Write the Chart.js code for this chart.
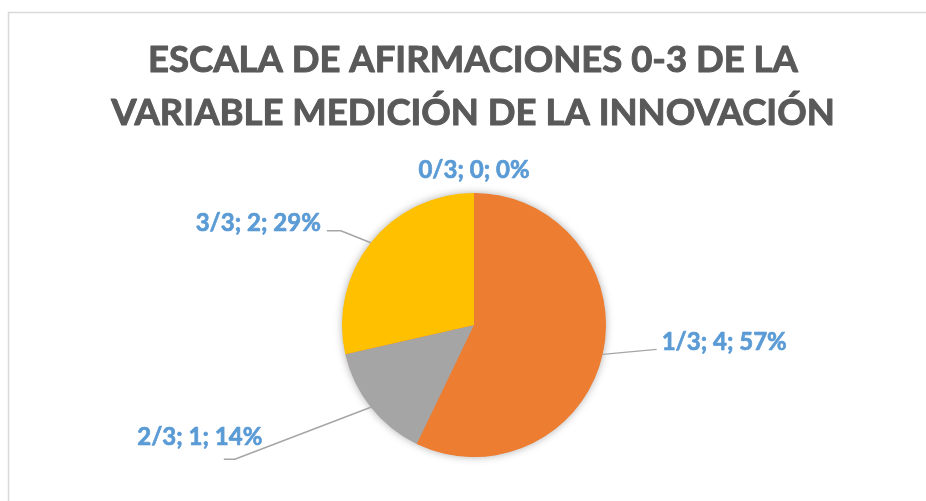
<!DOCTYPE html>
<html>
<head>
<meta charset="utf-8">
<script src="https://cdn.jsdelivr.net/npm/chart.js@4/dist/chart.umd.min.js"></script>
<style>
  html, body { margin: 0; padding: 0; background: #fff; overflow: hidden; }
  #wrap { width: 926px; height: 501px; position: relative; }
</style>
</head>
<body>
<div id="wrap"><canvas id="chart"></canvas></div>
<script>
const CATEGORIES = ['0/3', '1/3', '2/3', '3/3'];
const VALUES = [0, 4, 1, 2];
const COLORS = ['#5B9BD5', '#ED7D31', '#A5A5A5', '#FFC000'];
const TITLE = ['ESCALA DE AFIRMACIONES 0-3 DE LA', 'VARIABLE MEDICIÓN DE LA INNOVACIÓN'];

const FONT = 'Lato, "Open Sans", sans-serif';

// leader line shape per slice, relative to the point on the arc at its mid angle
const LEADERS = [
  { line: [], text: [0, -23], align: 'center' },
  { line: [[54, -5]], text: [59, -12], align: 'left' },
  { line: [[-136, 52], [-147, 52]], text: [-171, 30], align: 'center' },
  { line: [[-30, -12], [-44, -12]], text: [-50, -19], align: 'right' }
];

const total = VALUES.reduce((a, b) => a + b, 0);

function boldText(ctx, text, x, y, w) {
  ctx.lineWidth = w;
  ctx.lineJoin = 'round';
  ctx.strokeStyle = ctx.fillStyle;
  ctx.strokeText(text, x, y);
  ctx.fillText(text, x, y);
}

const frame = {
  id: 'frame',
  beforeDraw(chart) {
    const ctx = chart.ctx;
    ctx.save();
    ctx.strokeStyle = '#D9D9D9';
    ctx.lineWidth = 1.5;
    ctx.beginPath();
    ctx.moveTo(8.5, 600);
    ctx.lineTo(8.5, 12.5);
    ctx.lineTo(1000, 12.5);
    ctx.stroke();

    ctx.fillStyle = '#595959';
    ctx.font = 'bold 36.5px ' + FONT;
    ctx.textAlign = 'center';
    ctx.textBaseline = 'alphabetic';
    boldText(ctx, TITLE[0], 473, 72, 1);
    boldText(ctx, TITLE[1], 473, 125, 1);
    ctx.restore();
  },
  beforeDatasetsDraw(chart) {
    // soft shadow under the whole pie
    const arc = chart.getDatasetMeta(0).data[1];
    const ctx = chart.ctx;
    ctx.save();
    ctx.shadowColor = 'rgba(0,0,0,0.35)';
    ctx.shadowBlur = 8;
    ctx.fillStyle = '#ED7D31';
    ctx.beginPath();
    ctx.arc(arc.x, arc.y, arc.outerRadius - 0.5, 0, Math.PI * 2);
    ctx.fill();
    ctx.restore();
  },
  afterDatasetsDraw(chart) {
    const ctx = chart.ctx;
    const meta = chart.getDatasetMeta(0);
    ctx.save();
    meta.data.forEach((arc, i) => {
      const mid = (arc.startAngle + arc.endAngle) / 2;
      const px = arc.x + Math.cos(mid) * arc.outerRadius;
      const py = arc.y + Math.sin(mid) * arc.outerRadius;
      const l = LEADERS[i];
      if (l.line.length) {
        ctx.strokeStyle = '#A6A6A6';
        ctx.lineWidth = 1.5;
        ctx.beginPath();
        ctx.moveTo(px, py);
        l.line.forEach(p => ctx.lineTo(px + p[0], py + p[1]));
        ctx.stroke();
      }
      const pct = Math.round(VALUES[i] / total * 100);
      ctx.fillStyle = '#5B9BD5';
      ctx.font = 'bold 24px ' + FONT;
      ctx.textAlign = l.align;
      ctx.textBaseline = 'middle';
      boldText(ctx, CATEGORIES[i] + '; ' + VALUES[i] + '; ' + pct + '%', px + l.text[0], py + l.text[1], 0.7);
    });
    ctx.restore();
  }
};

new Chart(document.getElementById('chart'), {
  type: 'pie',
  data: {
    labels: CATEGORIES,
    datasets: [{
      data: VALUES,
      backgroundColor: COLORS,
      borderWidth: 0
    }]
  },
  options: {
    responsive: true,
    maintainAspectRatio: false,
    animation: false,
    events: [],
    layout: {
      padding: { left: 342, right: 320, top: 193, bottom: 44 }
    },
    plugins: {
      legend: { display: false },
      title: { display: false },
      tooltip: { enabled: false }
    }
  },
  plugins: [frame]
});
</script>
</body>
</html>
